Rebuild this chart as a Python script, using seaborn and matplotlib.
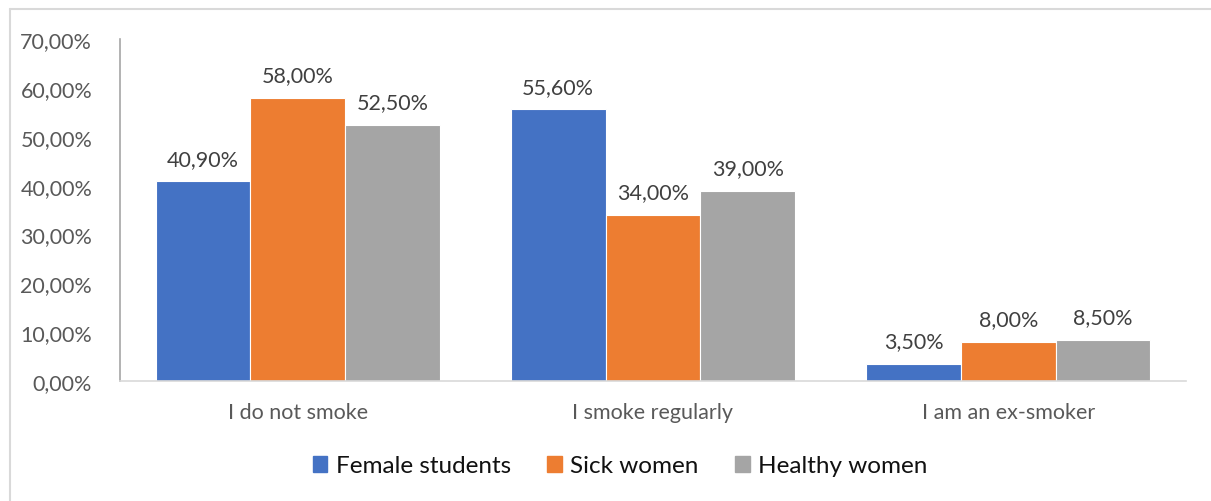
import matplotlib
matplotlib.use("Agg")
import matplotlib.pyplot as plt
import matplotlib.patches as mpatches
import seaborn as sns
import pandas as pd

categories = ["I do not smoke", "I smoke regularly", "I am an ex-smoker"]
groups = ["Female students", "Sick women", "Healthy women"]
female_students = [40.90, 55.60, 3.50]
sick_women = [58.00, 34.00, 8.00]
healthy_women = [52.50, 39.00, 8.50]
y_ticks = [0, 10, 20, 30, 40, 50, 60, 70]

colors = ["#4472C4", "#ED7D31", "#A5A5A5"]

rows = []
for g, vals in zip(groups, [female_students, sick_women, healthy_women]):
    for c, v in zip(categories, vals):
        rows.append({"category": c, "group": g, "value": v})
df = pd.DataFrame(rows)

sns.set_theme(style="white")
plt.rcParams["font.family"] = ["Lato", "DejaVu Sans"]

fig = plt.figure(figsize=(12.11, 5.02), dpi=100)
ax = fig.add_axes([0.0991, 0.239, 0.8802, 0.681])

sns.barplot(data=df, x="category", y="value", hue="group", order=categories,
            hue_order=groups, palette=colors, width=0.8, saturation=1,
            edgecolor="white", linewidth=0.8, ax=ax, legend=False)

for cont in ax.containers:
    ax.bar_label(cont, labels=[f"{v:.2f}%".replace(".", ",") for v in cont.datavalues],
                 padding=9, fontsize=15.5, color="#404040")

ax.set_ylim(0, 70)
ax.set_yticks(y_ticks)
ax.set_yticklabels([f"{t:.2f}%".replace(".", ",") for t in y_ticks],
                   fontsize=15.5, color="#595959")
ax.tick_params(axis="x", labelsize=15.5, labelcolor="#595959", pad=15, length=0)
ax.tick_params(axis="y", pad=20, length=0)
ax.set_xlabel("")
ax.set_ylabel("")
ax.set_xlim(-0.5, 2.5)

for s in ["top", "right"]:
    ax.spines[s].set_visible(False)
ax.spines["left"].set_color("#A6A6A6")
ax.spines["bottom"].set_color("#D9D9D9")
ax.spines["left"].set_linewidth(1.2)
ax.spines["bottom"].set_linewidth(1.2)

handles = [mpatches.Patch(color=c, label=g) for c, g in zip(colors, groups)]
leg = fig.legend(handles=handles, loc="center", bbox_to_anchor=(0.512, 0.07), ncol=3,
                 frameon=False, fontsize=17.5, handlelength=0.6, handleheight=0.6,
                 handletextpad=0.35, columnspacing=1.5)
for t in leg.get_texts():
    t.set_color("#111111")

# chart-area frame
fig.add_artist(plt.Line2D([10 / 1211, 1.0], [1 - 10 / 502, 1 - 10 / 502],
                          color="#D9D9D9", lw=1.5, transform=fig.transFigure))
fig.add_artist(plt.Line2D([10 / 1211, 10 / 1211], [0, 1 - 10 / 502],
                          color="#D9D9D9", lw=1.5, transform=fig.transFigure))

fig.savefig("out.png", dpi=100, facecolor="white")
